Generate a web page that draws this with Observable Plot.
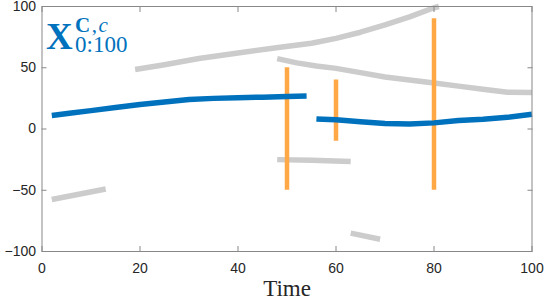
<!DOCTYPE html>
<html>
<head>
<meta charset="utf-8">
<script src="https://cdn.jsdelivr.net/npm/d3@7"></script>
<script src="https://cdn.jsdelivr.net/npm/@observablehq/plot@0.6"></script>
<style>
  html, body { margin: 0; padding: 0; background: #fff; }
  #wrap { position: relative; width: 548px; height: 302px; }
  #title { position: absolute; left: 46px; top: 4px; color: #0072BD; font-family: "Liberation Serif", "DejaVu Serif", serif; white-space: nowrap; line-height: 1; }
  #title .big { font-size: 37px; font-weight: bold; position: absolute; left: 0; top: 14px; }
  #title .sup { font-size: 21px; line-height: 0.7; letter-spacing: 1.5px; position: absolute; left: 29px; top: 13.6px; }
  #title .sub { font-size: 23px; line-height: 0.7; position: absolute; left: 29px; top: 33.2px; }
</style>
</head>
<body>
<div id="wrap">
  <div id="chart"></div>
  <div id="title"><span class="big">X</span><span class="sup"><b>C</b>,<i>c</i></span><span class="sub">0:100</span></div>
</div>
<script>
// Tick labels
const xTicks = [0, 20, 40, 60, 80, 100];
const yTicks = [-100, -50, 0, 50, 100];

// Blue segments (x, y)
const blue1X = [2, 6, 10, 15, 20, 25, 30, 35, 40, 45, 50, 54];
const blue1Y = [11, 13, 15, 17.5, 20, 22, 24, 25, 25.5, 26, 26.5, 27];
const blue2X = [56, 60, 65, 70, 75, 80, 85, 90, 95, 100];
const blue2Y = [8.2, 7.5, 6, 4.5, 4, 5, 7, 8, 9.5, 12];

// Gray segments
const gray1X = [19, 25, 32, 40, 49, 55, 60, 65, 70, 75, 80, 81];
const gray1Y = [48.5, 52.5, 57.5, 62, 67, 70, 74, 79, 85, 91.5, 99, 100];
const gray2X = [48, 52, 56, 60, 65, 70, 75, 80, 85, 90, 95, 100];
const gray2Y = [57.5, 54, 51.5, 49.5, 46, 42.5, 40, 37.5, 35, 32.5, 30, 29.7];
const gray3X = [2, 13];
const gray3Y = [-57.5, -49];
const gray4X = [48, 55, 63];
const gray4Y = [-25, -25.5, -26.5];
const gray5X = [63, 69];
const gray5Y = [-85, -90];

// Orange vertical intervals
const orangeX = [50, 60, 80];
const orangeLo = [-50, -10, -50];
const orangeHi = [50, 40, 90];

function seg(id, xs, ys) { return xs.map((x, i) => ({id, x, y: ys[i]})); }
const blue = [...seg("b1", blue1X, blue1Y), ...seg("b2", blue2X, blue2Y)];
const gray = [
  ...seg("g1", gray1X, gray1Y), ...seg("g2", gray2X, gray2Y),
  ...seg("g3", gray3X, gray3Y), ...seg("g4", gray4X, gray4Y),
  ...seg("g5", gray5X, gray5Y)
];
const orange = orangeX.map((x, i) => ({x, lo: orangeLo[i], hi: orangeHi[i]}));

const sans = "Liberation Sans, Arial, Helvetica, sans-serif";

const chart = Plot.plot({
  width: 548,
  height: 302,
  marginLeft: 41.5,
  marginRight: 16.5,
  marginTop: 6,
  marginBottom: 51,
  style: {fontFamily: sans, fontSize: "14px", color: "#262626", background: "#fff"},
  x: {domain: [0, 100], label: null},
  y: {domain: [-100, 100], label: null},
  marks: [
    Plot.line(gray, {x: "x", y: "y", z: "id", stroke: "#cccccc", strokeWidth: 5.5, strokeLinecap: "butt"}),
    Plot.ruleX(orange, {x: "x", y1: "lo", y2: "hi", stroke: "#ffa845", strokeWidth: 4.5}),
    Plot.line(blue, {x: "x", y: "y", z: "id", stroke: "#0072BD", strokeWidth: 5.5, strokeLinecap: "butt"}),
    Plot.frame({stroke: "#888"}),
    Plot.axisX({ticks: xTicks, anchor: "bottom", tickSize: 0, tickPadding: 12, label: null, fontSize: 14, fontFamily: sans, fill: "#262626"}),
    Plot.axisX({ticks: xTicks, anchor: "bottom", tickSize: -5, text: null, label: null, stroke: "#888"}),
    Plot.axisX({ticks: xTicks, anchor: "top", tickSize: -5, text: null, label: null, stroke: "#888"}),
    Plot.axisY({ticks: yTicks, anchor: "left", tickSize: 0, tickPadding: 6, label: null, fontSize: 14, fontFamily: sans, fill: "#262626"}),
    Plot.axisY({ticks: yTicks, anchor: "left", tickSize: -5, text: null, label: null, stroke: "#888"}),
    Plot.axisY({ticks: yTicks, anchor: "right", tickSize: -5, text: null, label: null, stroke: "#888"}),
    Plot.text(["Time"], {frameAnchor: "bottom", dy: 44, text: d => d, fontFamily: "Liberation Serif, DejaVu Serif, serif", fontSize: 23, fill: "#262626"})
  ]
});
document.getElementById("chart").appendChild(chart);
</script>
</body>
</html>
